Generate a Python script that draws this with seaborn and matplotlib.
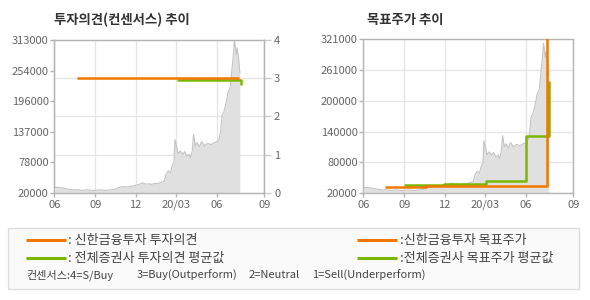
import numpy as np
import pandas as pd
import matplotlib
matplotlib.use('Agg')
import matplotlib.pyplot as plt
from matplotlib.ticker import FixedLocator, FixedFormatter
from matplotlib.lines import Line2D
from matplotlib.patches import Rectangle
import seaborn as sns

# ---------------- data ----------------
price_dates = [
    '2019-06-03', '2019-06-10', '2019-06-17', '2019-06-24', '2019-07-01', '2019-07-08',
    '2019-07-15', '2019-07-22', '2019-07-29', '2019-08-05', '2019-08-12', '2019-08-19',
    '2019-08-26', '2019-09-02', '2019-09-09', '2019-09-16', '2019-09-23', '2019-09-30',
    '2019-10-07', '2019-10-14', '2019-10-21', '2019-10-28', '2019-11-04', '2019-11-11',
    '2019-11-18', '2019-11-25', '2019-12-02', '2019-12-09', '2019-12-16', '2019-12-23',
    '2019-12-30', '2020-01-06', '2020-01-13', '2020-01-20', '2020-01-27', '2020-02-03',
    '2020-02-07', '2020-02-12', '2020-02-17', '2020-02-21', '2020-02-25', '2020-02-27',
    '2020-03-02', '2020-03-05', '2020-03-10', '2020-03-16', '2020-03-20', '2020-03-25',
    '2020-03-30', '2020-04-02', '2020-04-06', '2020-04-09', '2020-04-13', '2020-04-17',
    '2020-04-22', '2020-04-27', '2020-05-04', '2020-05-11', '2020-05-18', '2020-05-25',
    '2020-06-01', '2020-06-05', '2020-06-09', '2020-06-12', '2020-06-16', '2020-06-19',
    '2020-06-23', '2020-06-26', '2020-06-30', '2020-07-03', '2020-07-07', '2020-07-10',
    '2020-07-14', '2020-07-16', '2020-07-20', '2020-07-22']
price_values = [
    30000, 30500, 29500, 28500, 27000, 26500,
    25000, 26000, 25000, 24500, 25500, 25000,
    24000, 24500, 25500, 25000, 24500, 25000,
    25500, 26000, 29000, 31000, 31500, 31000,
    32000, 33000, 34500, 36000, 39000, 36500,
    37000, 36000, 38000, 37500, 40000, 42000,
    55000, 62000, 58000, 72000, 78000, 122000,
    108000, 95000, 100000, 94000, 99000, 90000,
    94000, 87000, 100000, 132000, 110000, 116000,
    108000, 118000, 110000, 115000, 112000, 116000,
    118000, 122000, 138000, 168000, 175000, 185000,
    200000, 215000, 220000, 245000, 280000, 313000,
    285000, 298000, 270000, 250000]

opinion_dates = ['2019-07-21', '2020-07-20']
opinion_values = [3, 3]
avg_opinion_dates = ['2020-03-02', '2020-05-31', '2020-07-24']
avg_opinion_values = [2.94, 2.96, 2.81]

target_dates = ['2019-07-20', '2019-10-21', '2020-07-19']
target_values = [31600, 33500, 350000]
avg_target_dates = ['2019-09-01', '2019-11-29', '2020-03-02', '2020-05-31', '2020-07-23']
avg_target_values = [35500, 38000, 42600, 132000, 240000]

x_tick_dates = ['2019-06-01', '2019-09-01', '2019-12-01', '2020-03-01', '2020-06-01', '2020-09-15']
x_tick_labels = ['06', '09', '12', '20/03', '06', '09']
left_price_ticks = [20000, 78000, 137000, 196000, 254000, 313000]
opinion_ticks = [0, 1, 2, 3, 4]
right_price_ticks = [20000, 80000, 140000, 200000, 261000, 321000]

title_left = '투자의견(컨센서스) 추이'
title_right = '목표주가 추이'
legend_labels = [': 신한금융투자 투자의견', ': 전체증권사 투자의견 평균값',
                 ':신한금융투자 목표주가', ':전체증권사 목표주가 평균값']
consensus_parts = ['컨센서스:4=S/Buy', '3=Buy(Outperform)', '2=Neutral', '1=Sell(Underperform)']

# ---------------- style ----------------
sns.set_style('white')
plt.rcParams['font.family'] = ['Noto Sans CJK KR', 'DejaVu Sans']

ORANGE = '#f07800'
GREEN = '#7ab800'
AREA = '#e0e0e0'
AREA_LINE = '#c4c4c4'
GRID = '#e6e6e6'
SPINE = '#b4b4b4'
TICKC = '#666666'

W, H = 590, 300
fig = plt.figure(figsize=(W / 100, H / 100), dpi=100)
fig.patch.set_facecolor('white')

price_df = pd.DataFrame({'date': pd.to_datetime(price_dates), 'price': price_values})
xt = pd.to_datetime(x_tick_dates)
xlim = (pd.Timestamp('2019-06-01'), pd.Timestamp('2020-09-15'))


def style_axes(ax):
    for s in ax.spines.values():
        s.set_color(SPINE)
        s.set_linewidth(1)
    ax.set_xlim(*xlim)
    ax.xaxis.set_major_locator(FixedLocator(matplotlib.dates.date2num(xt)))
    ax.xaxis.set_major_formatter(FixedFormatter(x_tick_labels))
    ax.tick_params(axis='x', length=3, width=1, color=SPINE, labelsize=8,
                   labelcolor=TICKC, pad=2, bottom=True)
    ax.tick_params(axis='y', length=3, width=1, color=SPINE, labelsize=8,
                   labelcolor=TICKC, pad=1, left=True)
    ax.set_xlabel('')
    ax.set_ylabel('')


def draw_price(ax):
    ax.fill_between(price_df['date'], price_df['price'], 0, color=AREA, lw=0, zorder=1)
    sns.lineplot(data=price_df, x='date', y='price', ax=ax, color=AREA_LINE, lw=0.8, zorder=2)


# ---------- left chart ----------
ax = fig.add_axes([54.3 / W, 1 - 192.7 / H, 210 / W, 152.7 / H])
lo, hi = 20000, 313000
draw_price(ax)
ax.set_ylim(lo, hi)
ax.set_yticks(left_price_ticks)
ax.set_yticklabels([str(v) for v in left_price_ticks])
ax.yaxis.set_minor_locator(FixedLocator([lo + (hi - lo) * k / 4 for k in (1, 2, 3)]))
ax.tick_params(axis='y', which='minor', length=0)
ax.set_axisbelow(True)
ax.grid(axis='x', which='major', color=GRID, lw=1)
ax.grid(axis='y', which='minor', color=GRID, lw=1)
style_axes(ax)

ax2 = ax.twinx()
op_df = pd.DataFrame({'date': pd.to_datetime(opinion_dates), 'v': opinion_values})
avg_op_df = pd.DataFrame({'date': pd.to_datetime(avg_opinion_dates), 'v': avg_opinion_values})
sns.lineplot(data=avg_op_df, x='date', y='v', ax=ax2, color=GREEN, lw=1.8,
             drawstyle='steps-post', solid_capstyle='butt', zorder=3)
sns.lineplot(data=op_df, x='date', y='v', ax=ax2, color=ORANGE, lw=1.8,
             drawstyle='steps-post', solid_capstyle='butt', zorder=4)
ax2.set_ylim(0, 4)
ax2.set_yticks(opinion_ticks)
ax2.set_yticklabels([str(v) for v in opinion_ticks])
ax2.grid(False)
for s in ax2.spines.values():
    s.set_color(SPINE)
ax2.tick_params(axis='y', length=5, width=1, color='#cccccc', labelsize=8,
                labelcolor=TICKC, pad=2, right=True)
ax2.set_xlim(*xlim)
ax2.set_xlabel('')
ax2.set_ylabel('')

fig.text(54 / W, 1 - 20 / H, title_left, fontsize=9.6, fontweight='bold',
         color='#333333', ha='left', va='center')

# ---------- right chart ----------
ax3 = fig.add_axes([363.3 / W, 1 - 192.7 / H, 210 / W, 153.4 / H])
draw_price(ax3)
tg_df = pd.DataFrame({'date': pd.to_datetime(target_dates), 'v': target_values})
avg_tg_df = pd.DataFrame({'date': pd.to_datetime(avg_target_dates), 'v': avg_target_values})
sns.lineplot(data=avg_tg_df, x='date', y='v', ax=ax3, color=GREEN, lw=1.8,
             drawstyle='steps-post', solid_capstyle='butt', zorder=3)
sns.lineplot(data=tg_df, x='date', y='v', ax=ax3, color=ORANGE, lw=1.8,
             drawstyle='steps-post', solid_capstyle='butt', zorder=4)
ax3.set_ylim(20000, 321000)
ax3.set_yticks(right_price_ticks)
ax3.set_yticklabels([str(v) for v in right_price_ticks])
ax3.set_axisbelow(True)
ax3.grid(True, color=GRID, lw=1)
style_axes(ax3)

fig.text(367 / W, 1 - 20 / H, title_right, fontsize=9.6, fontweight='bold',
         color='#333333', ha='left', va='center')

# ---------- legend box ----------
fig.patches.append(Rectangle((8 / W, 1 - 289 / H), 571 / W, 61 / H, transform=fig.transFigure,
                             facecolor='#fafafa', edgecolor='#dddddd', lw=1, zorder=0))
rows = [(26, 66, 68.5, 240.3, ORANGE, legend_labels[0]),
        (26, 66, 68.5, 258.0, GREEN, legend_labels[1]),
        (357, 397, 399.5, 240.3, ORANGE, legend_labels[2]),
        (357, 397, 399.5, 258.0, GREEN, legend_labels[3])]
for x0, x1, tx, y, col, lab in rows:
    fig.lines.append(Line2D([x0 / W, x1 / W], [1 - y / H, 1 - y / H], transform=fig.transFigure,
                            color=col, lw=2.2, solid_capstyle='butt'))
    fig.text(tx / W, 1 - y / H, lab, fontsize=9.4, color='#444444', ha='left', va='center')
for xpos, part in zip([26.7, 136.7, 248.5, 312.4], consensus_parts):
    fig.text(xpos / W, 1 - 275.5 / H, part, fontsize=8, color='#444444', ha='left', va='center')

fig.savefig('out.png', dpi=100)
